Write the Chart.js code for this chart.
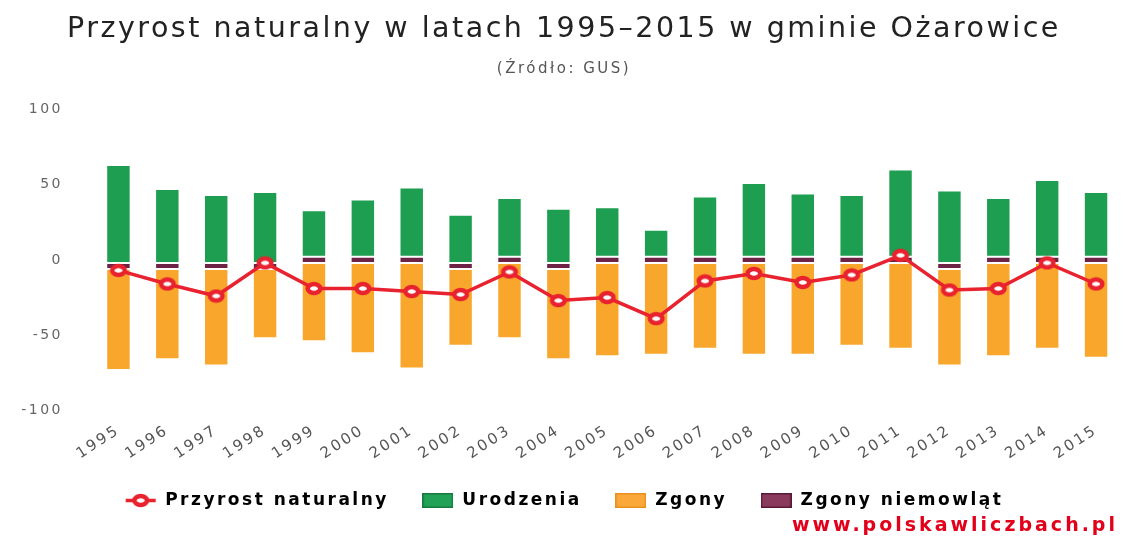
<!DOCTYPE html>
<html lang="pl">
<head>
<meta charset="utf-8">
<title>Przyrost naturalny – gmina Ożarowice</title>
<script src="https://cdn.jsdelivr.net/npm/chart.js@4.4.1/dist/chart.umd.min.js"></script>
<style>
  html, body { margin: 0; padding: 0; background: #fff; }
  #wrap { position: relative; width: 1128px; height: 540px; }
  #www {
    position: absolute; right: 10px; bottom: 5px;
    font: bold 19px "DejaVu Sans", sans-serif; letter-spacing: 3px;
    color: #e3001b;
  }
</style>
</head>
<body>
<div id="wrap">
  <canvas id="chart1"></canvas>
  <div id="www">www.polskawliczbach.pl</div>
</div>
<script>
// dane
const lata = ['1995', '1996', '1997', '1998', '1999', '2000', '2001', '2002', '2003', '2004', '2005',
              '2006', '2007', '2008', '2009', '2010', '2011', '2012', '2013', '2014', '2015'];
const przyrost = [-5, -14, -22, 0, -17, -17, -19, -21, -6, -25, -23, -37, -12, -7, -13, -8, 5, -18, -17, 0, -14];
const urodzenia = [65, 49, 45, 47, 31, 38, 46, 32, 39, 36, 33, 18, 40, 49, 42, 41, 58, 48, 39, 51, 43];
const zgony = [-67, -60, -64, -46, -52, -60, -70, -51, -50, -60, -62, -61, -57, -61, -61, -55, -57, -64, -62, -57, -63];
const zgonyNiemowlat = [-4, -4, -4, -4, 4, 4, 4, -4, 4, -4, 4, 4, 4, 4, 4, 4, 4, -4, 4, 4, 4];
const osY = { min: -100, max: 100, step: 50 };

const czerwony = '#e8222e';
const zielony = '#1d9e50';
const pomaranczowy = '#f9a62c';
const fioletowy = '#6e2346';

function znacznik(withLine) {
  const c = document.createElement('canvas');
  c.width = withLine ? 32 : 20;
  c.height = 15;
  const g = c.getContext('2d');
  if (withLine) {
    g.strokeStyle = czerwony;
    g.lineWidth = 3.5;
    g.beginPath();
    g.moveTo(1, 7.5);
    g.lineTo(31, 7.5);
    g.stroke();
  }
  g.beginPath();
  g.ellipse(c.width / 2, 7.5, 6.3, 4.4, 0, 0, Math.PI * 2);
  g.fillStyle = '#fff';
  g.fill();
  g.lineWidth = 4.5;
  g.strokeStyle = czerwony;
  g.stroke();
  return c;
}

function kwadrat(fill, stroke) {
  const c = document.createElement('canvas');
  c.width = 31;
  c.height = 15;
  const g = c.getContext('2d');
  g.fillStyle = fill;
  g.fillRect(0, 0, 31, 15);
  g.strokeStyle = stroke;
  g.lineWidth = 1.5;
  g.strokeRect(0.75, 0.75, 29.5, 13.5);
  return c;
}

const ikony = [
  znacznik(true),
  kwadrat('#8a3a5c', '#5a1a35'),
  kwadrat('#22a257', '#187a3f'),
  kwadrat('#fba83a', '#e89020')
];
const kolejnosc = [0, 3, 1, 2];

const odstepy = {
  id: 'odstepy',
  beforeUpdate(chart) { chart.ctx.letterSpacing = '2.5px'; },
  beforeDraw(chart) { chart.ctx.letterSpacing = '2.5px'; }
};

let chart1 = document.getElementById('chart1');

new Chart(chart1, {
    type: 'bar',
    data: {
        labels: lata,
        datasets: [
            {
                type: 'line',
                label: 'Przyrost naturalny',
                data: przyrost,
                stack: 'przyrost',
                borderColor: czerwony,
                backgroundColor: czerwony,
                borderWidth: 3.5,
                pointStyle: znacznik(false),
                tension: 0
            },
            {
                label: 'Zgony niemowląt',
                data: zgonyNiemowlat,
                stack: 'ludnosc',
                backgroundColor: fioletowy,
                borderColor: '#fff',
                borderWidth: 1,
                borderSkipped: false
            },
            {
                label: 'Urodzenia',
                data: urodzenia,
                stack: 'ludnosc',
                backgroundColor: zielony,
                borderColor: '#fff',
                borderWidth: 1,
                borderSkipped: false
            },
            {
                label: 'Zgony',
                data: zgony,
                stack: 'ludnosc',
                backgroundColor: pomaranczowy,
                borderColor: '#fff',
                borderWidth: 1,
                borderSkipped: false
            }
        ]
    },

    options: {
        responsive: true,
        maintainAspectRatio: false,
        animation: false,
        barPercentage: 0.5,
        categoryPercentage: 1,
        layout: {
            padding: { left: 0, right: 0, top: 0, bottom: 21 }
        },
        plugins: {
            title: {
                display: true,
                text: 'Przyrost naturalny w latach 1995–2015 w gminie Ożarowice',
                color: '#222',
                font: { family: 'DejaVu Sans', size: 28.5, weight: 'normal' },
                padding: { top: 12, bottom: 14 }
            },
            subtitle: {
                display: true,
                text: '(Źródło: GUS)',
                color: '#555',
                font: { family: 'DejaVu Sans', size: 15 },
                padding: { top: 0, bottom: 34 }
            },
            legend: {
                position: 'bottom',
                labels: {
                    usePointStyle: true,
                    pointStyleWidth: 32,
                    padding: 33,
                    color: '#222',
                    font: { family: 'DejaVu Sans', size: 17, weight: 'bold' },
                    sort: (a, b) => kolejnosc[a.datasetIndex] - kolejnosc[b.datasetIndex],
                    generateLabels: (chart) => chart.data.datasets.map((ds, i) => ({
                        text: ds.label,
                        pointStyle: ikony[i],
                        fillStyle: ds.backgroundColor,
                        strokeStyle: ds.backgroundColor,
                        lineWidth: 0,
                        hidden: !chart.isDatasetVisible(i),
                        datasetIndex: i
                    }))
                }
            },
            tooltip: { enabled: false }
        },
        scales: {
            x: {
                stacked: true,
                grid: { display: false, drawTicks: false },
                border: { display: false },
                ticks: {
                    autoSkip: false,
                    minRotation: 33,
                    maxRotation: 33,
                    padding: 8,
                    color: '#555',
                    font: { family: 'DejaVu Sans', size: 15 }
                },
                afterFit: (s) => { s.height = 45.4; }
            },
            y: {
                stacked: true,
                min: osY.min,
                max: osY.max,
                grid: { display: false, drawTicks: false },
                border: { display: false },
                ticks: {
                    stepSize: osY.step,
                    padding: 31,
                    labelOffset: -3,
                    color: '#666',
                    font: { family: 'DejaVu Sans', size: 14 }
                },
                afterFit: (s) => { s.width = 94; }
            }
        }
    },
    plugins: [odstepy]
});
</script>
</body>
</html>
